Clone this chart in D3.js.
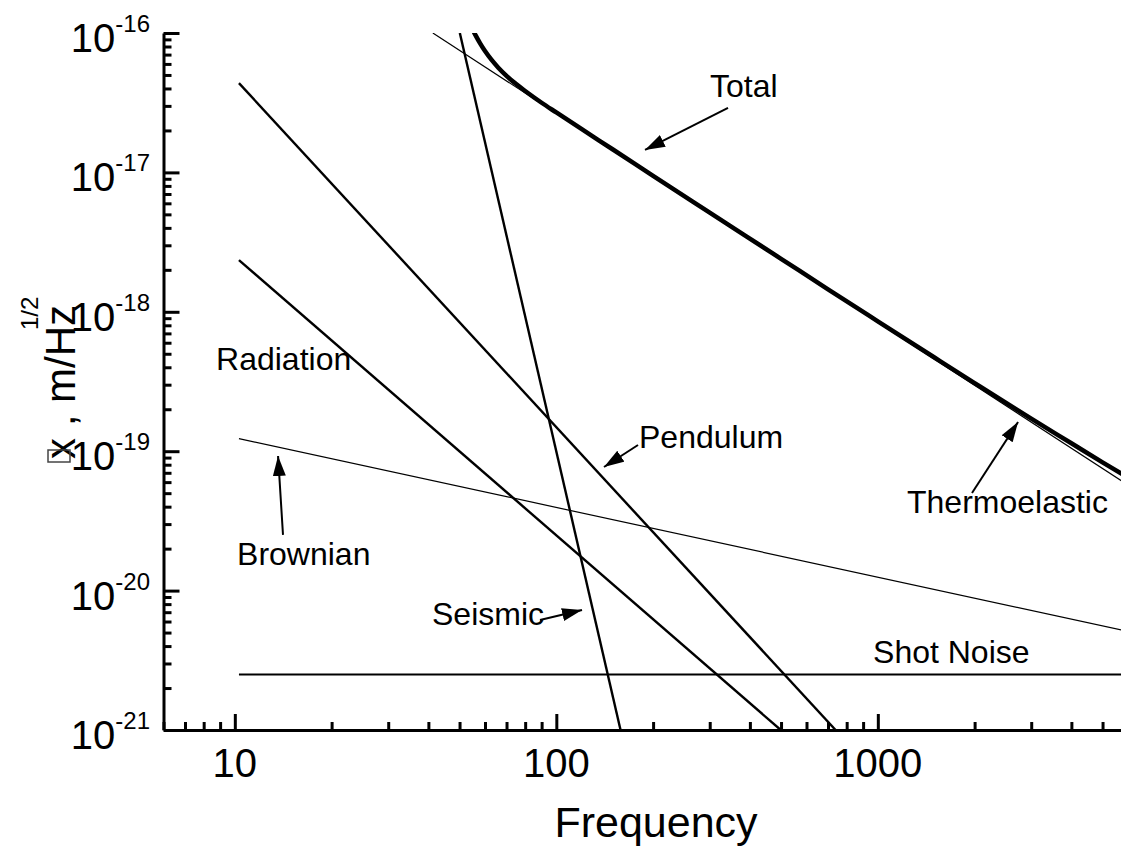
<!DOCTYPE html>
<html>
<head>
<meta charset="utf-8" />
<script src="https://cdnjs.cloudflare.com/ajax/libs/d3/7.8.5/d3.min.js"></script>
<style>
  body { margin: 0; background: #fff; }
  svg { display: block; font-family: "Liberation Sans", Arial, sans-serif; }
  .axis path, .axis line { stroke: #000; stroke-width: 3; }
  .axis text { display: none; }
  .curve { fill: none; stroke: #000; }
  .note { font-size: 32px; }
</style>
</head>
<body>
<div id="chart"></div>
<script>
// tick labels
var xMajor = [10, 100, 1000];
var xLabels = ["10", "100", "1000"];
var yMajor = [1e-16, 1e-17, 1e-18, 1e-19, 1e-20, 1e-21];
var yExp = ["-16", "-17", "-18", "-19", "-20", "-21"];

// noise curves, frequency (Hz) and amplitude (m/Hz^1/2)
var seismicF = [50.1, 158.4],   seismicV = [1e-16, 1e-21];
var thermoF = [41.3, 6000],     thermoV = [1e-16, 5.71e-20];
var pendulumF = [10.3, 739],    pendulumV = [4.37e-17, 1e-21];
var radiationF = [10.3, 499],   radiationV = [2.35e-18, 1e-21];
var brownianF = [10.3, 6000],   brownianV = [1.23e-19, 5.1e-21];
var shotF = [10.3, 6000],       shotV = [2.5e-21, 2.5e-21];
var totalF = [55, 56, 58, 60, 63, 66, 70, 75, 80, 90, 100, 120, 150, 200, 300,
              500, 700, 1000, 1500, 2000, 3000, 4000, 5000, 6000];
var totalV = [1.05e-16, 9.69e-17, 8.39e-17, 7.42e-17, 6.38e-17, 5.64e-17, 4.93e-17,
              4.30e-17, 3.84e-17, 3.16e-17, 2.69e-17, 2.04e-17, 1.46e-17, 9.45e-18,
              5.15e-18, 2.40e-18, 1.45e-18, 8.55e-19, 4.70e-19, 3.08e-19, 1.71e-19,
              1.14e-19, 8.32e-20, 6.47e-20];

// annotations (data coordinates)
var noteText = ["Total", "Radiation", "Pendulum", "Brownian", "Seismic", "Shot Noise", "Thermoelastic"];
var noteF = [300.6, 8.74, 180.8, 10.16, 41.05, 966.3, 1232.6];
var noteV = [3.47e-17, 3.82e-19, 1.054e-19, 1.526e-20, 5.66e-21, 3.02e-21, 3.60e-20];
var arrowFrom = [[342, 2.90e-17], [179.5, 1.108e-19], [14.12, 2.51e-20], [88.97, 6.15e-21], [1963, 5.01e-20]];
var arrowTo = [[188.7, 1.45e-17], [140.7, 7.70e-20], [13.63, 9.24e-20], [120.2, 7.26e-21], [2730, 1.62e-19]];

var width = 1121, height = 855;
var mLeft = 163.5, mTop = 33, mBottom = 730, decade = 321.5;

var svg = d3.select("#chart").append("svg")
  .attr("width", width)
  .attr("height", height);

var x = d3.scaleLog().domain([6, 6000]).range([mLeft, mLeft + 3 * decade]);
var y = d3.scaleLog().domain([1e-21, 1e-16]).range([mBottom, mTop]);

var defs = svg.append("defs");
defs.append("clipPath").attr("id", "plot")
  .append("rect").attr("x", mLeft).attr("y", mTop)
  .attr("width", 3 * decade).attr("height", mBottom - mTop);

defs.append("marker")
  .attr("id", "head")
  .attr("markerUnits", "userSpaceOnUse")
  .attr("markerWidth", 22).attr("markerHeight", 14)
  .attr("refX", 20).attr("refY", 6.5)
  .attr("orient", "auto")
  .append("path").attr("d", "M0,0 L20,6.5 L0,13 Z").attr("fill", "#000");

function isMajor(d) { return Math.abs(Math.log10(d) - Math.round(Math.log10(d))) < 1e-6; }

// axes: minor ticks then major ticks, both pointing inward
var xMinor = x.ticks().filter(function(d) { return !isMajor(d); });
svg.append("g").attr("class", "axis")
  .attr("transform", "translate(0," + mBottom + ")")
  .call(d3.axisBottom(x).tickValues(xMinor).tickSizeInner(-8).tickSizeOuter(0))
  .select(".domain").remove();
svg.append("g").attr("class", "axis")
  .attr("transform", "translate(0," + mBottom + ")")
  .call(d3.axisBottom(x).tickValues(xMajor).tickSizeInner(-16).tickSizeOuter(0));

var yMinor = y.ticks().filter(function(d) { return !isMajor(d); });
svg.append("g").attr("class", "axis")
  .attr("transform", "translate(" + mLeft + ",0)")
  .call(d3.axisLeft(y).tickValues(yMinor).tickSizeInner(-8).tickSizeOuter(0))
  .select(".domain").remove();
svg.append("g").attr("class", "axis")
  .attr("transform", "translate(" + mLeft + ",0)")
  .call(d3.axisLeft(y).tickValues(yMajor).tickSizeInner(-16).tickSizeOuter(0));

// tick labels
svg.selectAll(".xlab").data(xMajor).enter().append("text")
  .attr("x", function(d) { return x(d); })
  .attr("y", 777)
  .attr("text-anchor", "middle")
  .style("font-size", "40px")
  .text(function(d, i) { return xLabels[i]; });

var yl = svg.selectAll(".ylab").data(yMajor).enter().append("text")
  .attr("x", 150)
  .attr("y", function(d) { return y(d) + 19; })
  .attr("text-anchor", "end");
yl.append("tspan").style("font-size", "40px").text("10");
yl.append("tspan").style("font-size", "24px").attr("dy", -20)
  .text(function(d, i) { return yExp[i]; });

// axis titles
svg.append("text")
  .attr("x", 656).attr("y", 837)
  .attr("text-anchor", "middle")
  .style("font-size", "43px")
  .text("Frequency");

svg.append("text")
  .attr("transform", "translate(75,459) rotate(-90)")
  .style("font-size", "42px")
  .text("x , m/Hz");
svg.append("text")
  .attr("transform", "translate(38,330) rotate(-90)")
  .style("font-size", "24px")
  .text("1/2");
svg.append("rect")
  .attr("x", 48).attr("y", 450).attr("width", 22).attr("height", 12)
  .attr("fill", "none").attr("stroke", "#444").attr("stroke-width", 1.5);

// curves
var line = d3.line()
  .x(function(d) { return x(d[0]); })
  .y(function(d) { return y(d[1]); });

var plot = svg.append("g").attr("clip-path", "url(#plot)");

function curve(fs, vs, w) {
  plot.append("path").attr("class", "curve")
    .datum(d3.zip(fs, vs))
    .attr("stroke-width", w)
    .attr("d", line);
}

curve(shotF, shotV, 2);
curve(brownianF, brownianV, 1.2);
curve(radiationF, radiationV, 2.4);
curve(pendulumF, pendulumV, 2.4);
curve(seismicF, seismicV, 2.4);
curve(thermoF, thermoV, 1.2);

plot.append("path").attr("class", "curve")
  .datum(d3.zip(totalF, totalV))
  .attr("stroke-width", 4.5)
  .attr("d", line.curve(d3.curveMonotoneX));

// annotations
svg.selectAll(".note").data(noteText).enter().append("text")
  .attr("class", "note")
  .attr("x", function(d, i) { return x(noteF[i]); })
  .attr("y", function(d, i) { return y(noteV[i]); })
  .text(function(d) { return d; });

svg.selectAll(".arrow").data(arrowFrom).enter().append("line")
  .attr("x1", function(d) { return x(d[0]); })
  .attr("y1", function(d) { return y(d[1]); })
  .attr("x2", function(d, i) { return x(arrowTo[i][0]); })
  .attr("y2", function(d, i) { return y(arrowTo[i][1]); })
  .attr("stroke", "#000").attr("stroke-width", 2)
  .attr("marker-end", "url(#head)");
</script>
</body>
</html>
